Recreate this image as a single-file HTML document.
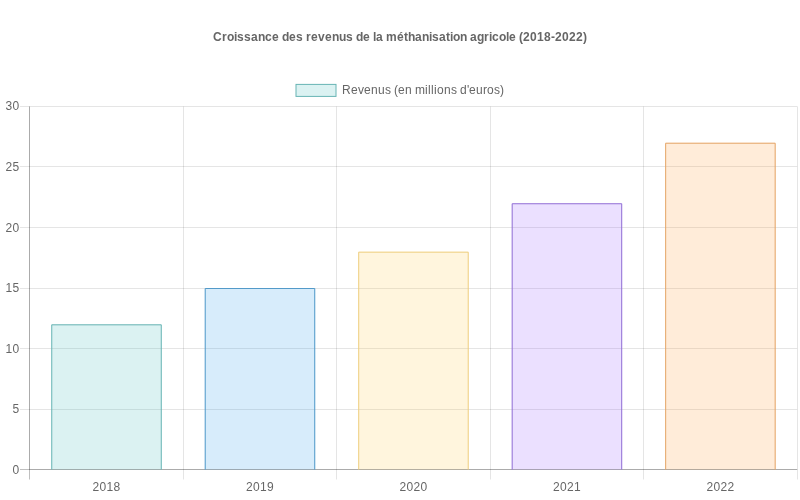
<!DOCTYPE html>
<html lang="fr">
<head>
<meta charset="utf-8">
<title>Croissance des revenus de la méthanisation agricole</title>
<style>
html,body{margin:0;padding:0;background:#fff;width:800px;height:500px;overflow:hidden}
body{font-family:"Liberation Sans",sans-serif;position:relative}
</style>
</head>
<body>
<svg width="800" height="500" viewBox="0 0 800 500" style="position:absolute;left:0;top:0;display:block;will-change:transform">
<rect width="800" height="500" fill="#fff"/>
<g stroke-width="1" fill="none">
<line x1="29.5" y1="106.5" x2="29.5" y2="479.5" stroke="rgba(0,0,0,0.25)"/>
<line x1="183.5" y1="106.5" x2="183.5" y2="479.5" stroke="rgba(0,0,0,0.1)"/>
<line x1="336.5" y1="106.5" x2="336.5" y2="479.5" stroke="rgba(0,0,0,0.1)"/>
<line x1="490.5" y1="106.5" x2="490.5" y2="479.5" stroke="rgba(0,0,0,0.1)"/>
<line x1="643.5" y1="106.5" x2="643.5" y2="479.5" stroke="rgba(0,0,0,0.1)"/>
<line x1="797.5" y1="106.5" x2="797.5" y2="479.5" stroke="rgba(0,0,0,0.1)"/>
<line x1="20.0" y1="469.5" x2="797.2" y2="469.5" stroke="rgba(0,0,0,0.25)"/>
<line x1="20.0" y1="409.5" x2="797.2" y2="409.5" stroke="rgba(0,0,0,0.1)"/>
<line x1="20.0" y1="348.5" x2="797.2" y2="348.5" stroke="rgba(0,0,0,0.1)"/>
<line x1="20.0" y1="288.5" x2="797.2" y2="288.5" stroke="rgba(0,0,0,0.1)"/>
<line x1="20.0" y1="227.5" x2="797.2" y2="227.5" stroke="rgba(0,0,0,0.1)"/>
<line x1="20.0" y1="166.5" x2="797.2" y2="166.5" stroke="rgba(0,0,0,0.1)"/>
<line x1="20.0" y1="106.5" x2="797.2" y2="106.5" stroke="rgba(0,0,0,0.1)"/>
<line x1="29.5" y1="106.5" x2="29.5" y2="469.5" stroke="rgba(0,0,0,0.1)"/>
<line x1="29.5" y1="469.5" x2="797.16" y2="469.5" stroke="rgba(0,0,0,0.1)"/>
</g>
<rect x="51.25" y="324.32" width="110.51" height="145.28" fill="rgba(75,192,192,0.2)"/>
<path d="M51.75 469.60 L51.75 324.82 L161.25 324.82 L161.25 469.60" fill="none" stroke="rgb(104,180,180)" stroke-width="1"/>
<rect x="204.73" y="288.00" width="110.51" height="181.60" fill="rgba(54,162,235,0.2)"/>
<path d="M205.23 469.60 L205.23 288.50 L314.73 288.50 L314.73 469.60" fill="none" stroke="rgb(83,154,201)" stroke-width="1"/>
<rect x="358.21" y="251.68" width="110.51" height="217.92" fill="rgba(255,206,86,0.2)"/>
<path d="M358.71 469.60 L358.71 252.18 L468.21 252.18 L468.21 469.60" fill="none" stroke="rgb(238,206,128)" stroke-width="1"/>
<rect x="511.69" y="203.25" width="110.51" height="266.35" fill="rgba(153,102,255,0.2)"/>
<path d="M512.19 469.60 L512.19 203.75 L621.69 203.75 L621.69 469.60" fill="none" stroke="rgb(147,113,213)" stroke-width="1"/>
<rect x="665.17" y="142.72" width="110.51" height="326.88" fill="rgba(255,159,64,0.2)"/>
<path d="M665.67 469.60 L665.67 143.22 L775.17 143.22 L775.17 469.60" fill="none" stroke="rgb(228,165,104)" stroke-width="1"/>
<rect x="296" y="84.4" width="40" height="12" fill="rgba(75,192,192,0.2)" stroke="rgb(104,180,180)" stroke-width="1"/>
<g font-family="Liberation Sans, sans-serif" font-size="12px" fill="#666">
<text x="213 222 227 234 237 244 251 258 265 272 279 282 289 296 303 306 311 318 325 332 339 346 353 356 363 370 373 376 383 386 397 404 408 415 422 429 432 439 446 450 453 460 467 470 477 484 489 492 499 506 509 516 519 523 530 537 544 551 555 562 569 576 583" y="41.2" font-weight="bold">Croissance des revenus de la méthanisation agricole (2018-2022)</text>
<text x="342 351 358 364 371 378 385 391 394 398 405 412 415 425 428 431 434 437 444 451 457 460 467 469 476 483 487 494 500" y="94.4">Revenus (en millions d'euros)</text>
<text x="12.5" y="473.6">0</text>
<text x="12.5" y="413.1">5</text>
<text x="5.5 12.5" y="352.5">10</text>
<text x="5.5 12.5" y="292">15</text>
<text x="5.5 12.5" y="231.5">20</text>
<text x="5.5 12.5" y="170.9">25</text>
<text x="5.5 12.5" y="110.4">30</text>
<text x="92.5 99.5 106.5 113.5" y="491">2018</text>
<text x="246 253 260 267" y="491">2019</text>
<text x="399.5 406.5 413.5 420.5" y="491">2020</text>
<text x="553 560 567 574" y="491">2021</text>
<text x="706.5 713.5 720.5 727.5" y="491">2022</text>
</g>
</svg>
</body>
</html>
